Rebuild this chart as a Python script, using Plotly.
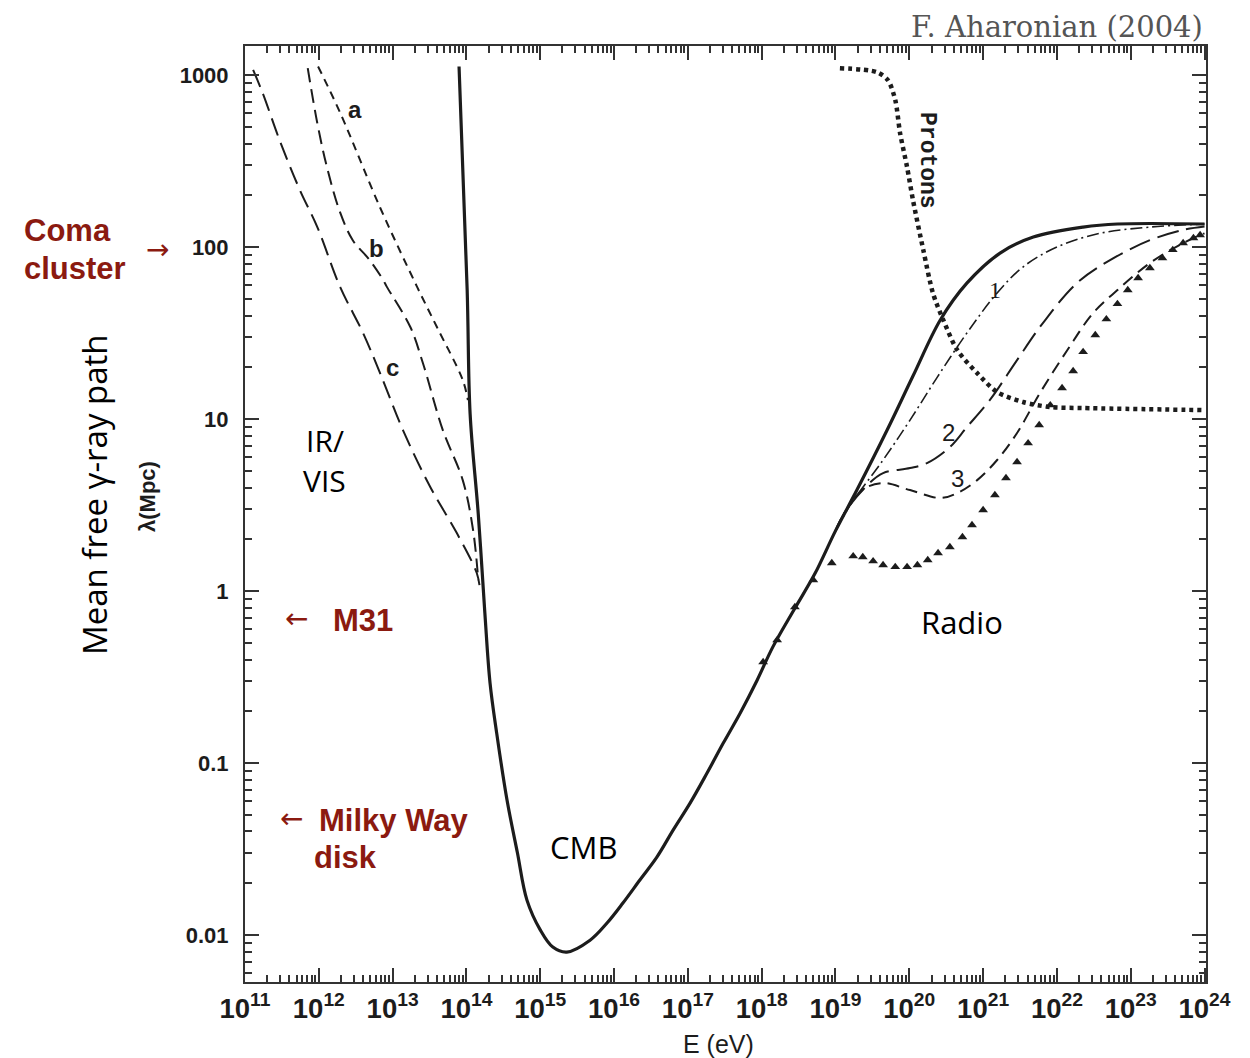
import plotly.graph_objects as go

# ---------------- data (log10 E [eV], log10 lambda [Mpc]) ----------------
cmb_logE = [13.90, 14.01, 14.05, 14.16, 14.25, 14.32, 14.41, 14.55, 14.69, 14.82, 15.0, 15.17, 15.36,
            15.675, 15.905, 16.12, 16.35, 16.58, 16.80, 17.03, 17.26, 17.48, 17.71, 17.94, 18.15, 18.45,
            18.72, 19.0, 19.29, 19.70, 20.05, 20.42, 20.78, 21.23, 21.68, 22.355, 22.82, 24.0]
cmb_loglam = [3.05, 1.75, 1.03, 0.45, -0.13, -0.535, -0.826, -1.215, -1.52, -1.797, -1.97, -2.07, -2.099,
              -2.03, -1.93, -1.814, -1.68, -1.547, -1.39, -1.233, -1.058, -0.884, -0.709, -0.517, -0.326, -0.10,
              0.10, 0.35, 0.587, 0.936, 1.25, 1.576, 1.79, 1.965, 2.058, 2.116, 2.134, 2.134]

ir_a_logE = [11.99, 12.29, 12.83, 13.33, 13.60, 13.95, 14.02]
ir_a_loglam = [3.05, 2.78, 2.23, 1.77, 1.535, 1.227, 1.11]

ir_b_logE = [11.85, 11.98, 12.11, 12.29, 12.46, 12.69, 12.87, 12.92, 13.24, 13.41, 13.68, 13.95, 14.09, 14.16]
ir_b_loglam = [3.04, 2.72, 2.465, 2.20, 2.04, 1.924, 1.81, 1.77, 1.535, 1.326, 0.936, 0.645, 0.355, 0.064]

ir_c_logE = [11.11, 11.24, 11.47, 11.745, 11.98, 12.29, 12.60, 12.83, 13.14, 13.51, 13.87, 14.14, 14.18]
ir_c_loglam = [3.03, 2.895, 2.62, 2.33, 2.116, 1.767, 1.50, 1.267, 0.936, 0.605, 0.337, 0.105, 0.023]

r1_logE = [19.0, 19.20, 19.645, 20.01, 20.38, 20.78, 21.19, 21.54, 22.00, 22.585, 23.26, 24.0]
r1_loglam = [0.35, 0.50, 0.762, 0.994, 1.244, 1.50, 1.733, 1.884, 2.0, 2.08, 2.116, 2.134]

r2_logE = [19.0, 19.13, 19.43, 19.645, 20.01, 20.24, 20.55, 20.78, 21.09, 21.46, 21.81, 22.27, 22.72, 23.26, 23.71, 24.0]
r2_loglam = [0.35, 0.46, 0.615, 0.686, 0.715, 0.744, 0.837, 0.953, 1.11, 1.343, 1.558, 1.79, 1.924, 2.04, 2.10, 2.12]

r3_logE = [19.0, 19.13, 19.37, 19.645, 20.01, 20.42, 20.65, 20.92, 21.19, 21.46, 21.77, 22.14, 22.49, 22.82, 23.26, 23.71, 24.0]
r3_loglam = [0.35, 0.46, 0.59, 0.628, 0.587, 0.541, 0.57, 0.645, 0.762, 0.919, 1.151, 1.40, 1.616, 1.75, 1.907, 2.023, 2.08]

tri_logE = [18.02, 18.21, 18.45, 18.70, 18.95, 19.24, 19.37, 19.51, 19.645, 19.81, 19.97, 20.11, 20.25, 20.39,
            20.55, 20.72, 20.85, 21.0, 21.16, 21.31, 21.46, 21.61, 21.76, 21.91, 22.07, 22.22, 22.355, 22.52,
            22.67, 22.82, 22.96, 23.10, 23.26, 23.43, 23.57, 23.71, 23.85, 23.94]
tri_loglam = [-0.413, -0.285, -0.093, 0.064, 0.163, 0.203, 0.198, 0.174, 0.151, 0.14, 0.14, 0.151, 0.18, 0.221,
              0.256, 0.314, 0.384, 0.471, 0.558, 0.657, 0.75, 0.86, 0.965, 1.081, 1.18, 1.279, 1.39, 1.488,
              1.581, 1.669, 1.75, 1.82, 1.878, 1.936, 1.983, 2.023, 2.052, 2.07]

prot_logE = [19.06, 19.56, 19.71, 19.81, 19.875, 19.97, 20.05, 20.19, 20.32, 20.46, 20.65, 20.92, 21.19, 21.54, 21.91, 22.355, 24.0]
prot_loglam = [3.04, 3.017, 2.971, 2.855, 2.663, 2.465, 2.273, 1.983, 1.733, 1.576, 1.401, 1.267, 1.157, 1.099, 1.07, 1.064, 1.052]


def lin(v):
    return [10 ** x for x in v]


INK = "#1c1c1c"
RED = "#8b1a10"

fig = go.Figure()


def add_line(lx, ly, width, dash, smooth=1.0):
    fig.add_trace(go.Scatter(x=lin(lx), y=lin(ly), mode="lines",
                             line=dict(color=INK, width=width, dash=dash, shape="spline", smoothing=smooth),
                             showlegend=False, hoverinfo="skip"))


add_line(ir_a_logE, ir_a_loglam, 2, "8px,6px")
add_line(ir_b_logE, ir_b_loglam, 2, "14px,7px")
add_line(ir_c_logE, ir_c_loglam, 2, "18px,8px")
add_line(r1_logE, r1_loglam, 1.6, "12px,4px,2px,4px")
add_line(r2_logE, r2_loglam, 2, "22px,8px")
add_line(r3_logE, r3_loglam, 2, "12px,7px")
add_line(prot_logE, prot_loglam, 4.5, "4px,4px", smooth=0.8)
add_line(cmb_logE, cmb_loglam, 3.2, "solid", smooth=1.0)

fig.add_trace(go.Scatter(x=lin(tri_logE), y=lin(tri_loglam), mode="markers",
                         marker=dict(symbol="triangle-up", size=8.5, color=INK),
                         showlegend=False, hoverinfo="skip"))


# ---------------- in-plot labels (data coords, log units) ----------------
def lab(x, y, t, size=24, font="Liberation Sans", weight="bold", angle=0, color=INK):
    fig.add_annotation(x=x, y=y, xref="x", yref="y", text=t, showarrow=False, textangle=angle,
                       font=dict(family=font, size=size, color=color, weight=weight))


lab(12.49, 2.80, "a")
lab(12.775, 1.99, "b")
lab(13.0, 1.30, "c")
lab(21.16, 1.75, "1", font="Liberation Serif", weight="normal", size=24)
lab(20.53, 0.924, "2", font="Liberation Sans", weight="normal", size=24)
lab(20.65, 0.657, "3", font="Liberation Sans", weight="normal", size=24)
lab(20.24, 2.506, "Protons", size=23, font="Liberation Mono", angle=90)

lab(12.08, 0.878, "IR/", size=30, font="Open Sans", weight="normal", color="#000")
lab(12.08, 0.645, "VIS", size=30, font="Open Sans", weight="normal", color="#000")
lab(20.715, -0.18, "Radio", size=31, font="Open Sans", weight="normal", color="#000")
lab(15.58, -1.488, "CMB", size=31, font="Open Sans", weight="normal", color="#000")

# ---------------- geometry (window pixels; body margin of 8px) ----------------
BM = 8
W0, W1, H0, H1 = 245, 1206, 46, 982


def px(xp):
    return (xp - W0) / (W1 - W0)


def py(yp):
    return (H1 - yp) / (H1 - H0)


def plab(x, y, t, size, color, font="Liberation Sans", xanchor="center", angle=0, weight="normal"):
    fig.add_annotation(x=px(x), y=py(y), xref="paper", yref="paper", text=t, showarrow=False,
                       xanchor=xanchor, yanchor="middle", textangle=angle,
                       font=dict(family=font, size=size, color=color, weight=weight))


plab(22, 231, "Coma", 31, RED, xanchor="left", weight="bold")
plab(22, 268, "cluster", 31, RED, xanchor="left", weight="bold")
plab(157, 249, "→", 28, RED, font="DejaVu Sans")
plab(283, 618, "←", 28, RED, font="DejaVu Sans", xanchor="left")
plab(331, 620, "M31", 31, RED, xanchor="left", weight="bold")
plab(278, 818, "←", 28, RED, font="DejaVu Sans", xanchor="left")
plab(317, 820, "Milky Way", 31, RED, xanchor="left", weight="bold")
plab(312, 857, "disk", 31, RED, xanchor="left", weight="bold")

plab(95, 495, "Mean free γ-ray path", 33, "#000", font="Open Sans", angle=-90)
plab(148, 497, "λ(Mpc)", 22, INK, angle=-90, weight="bold")
plab(718, 1044, "E (eV)", 25, INK)
plab(1205, 27, "F. Aharonian (2004)", 29, "#555", font="DejaVu Serif", xanchor="right")

# ---------------- axes ----------------
axis_common = dict(type="log", showline=True, linecolor="#333", linewidth=2, mirror="allticks",
                   ticks="inside", ticklen=14, tickwidth=2, tickcolor="#333",
                   showgrid=False, zeroline=False, tickmode="linear", tick0=0, dtick=1,
                   tickfont=dict(family="Liberation Sans", size=22, color=INK, weight="bold"),
                   minor=dict(ticks="inside", ticklen=7, tickwidth=1.5, tickcolor="#333", dtick="D1",
                              showgrid=False))

fig.update_xaxes(**axis_common, range=[11, 24.02], exponentformat="power", showexponent="all",
                 ticklabelstandoff=2)
fig.update_yaxes(**axis_common, range=[-2.273, 3.169], exponentformat="none", ticklabelstandoff=10)

FW, FH = 1250 - BM, 1058 - BM
fig.update_layout(width=FW, height=FH, paper_bgcolor="white", plot_bgcolor="white",
                  margin=dict(l=W0 - BM, r=FW - (W1 - BM), t=H0 - BM, b=FH - (H1 - BM)),
                  showlegend=False)

fig.write_html("out.html")
